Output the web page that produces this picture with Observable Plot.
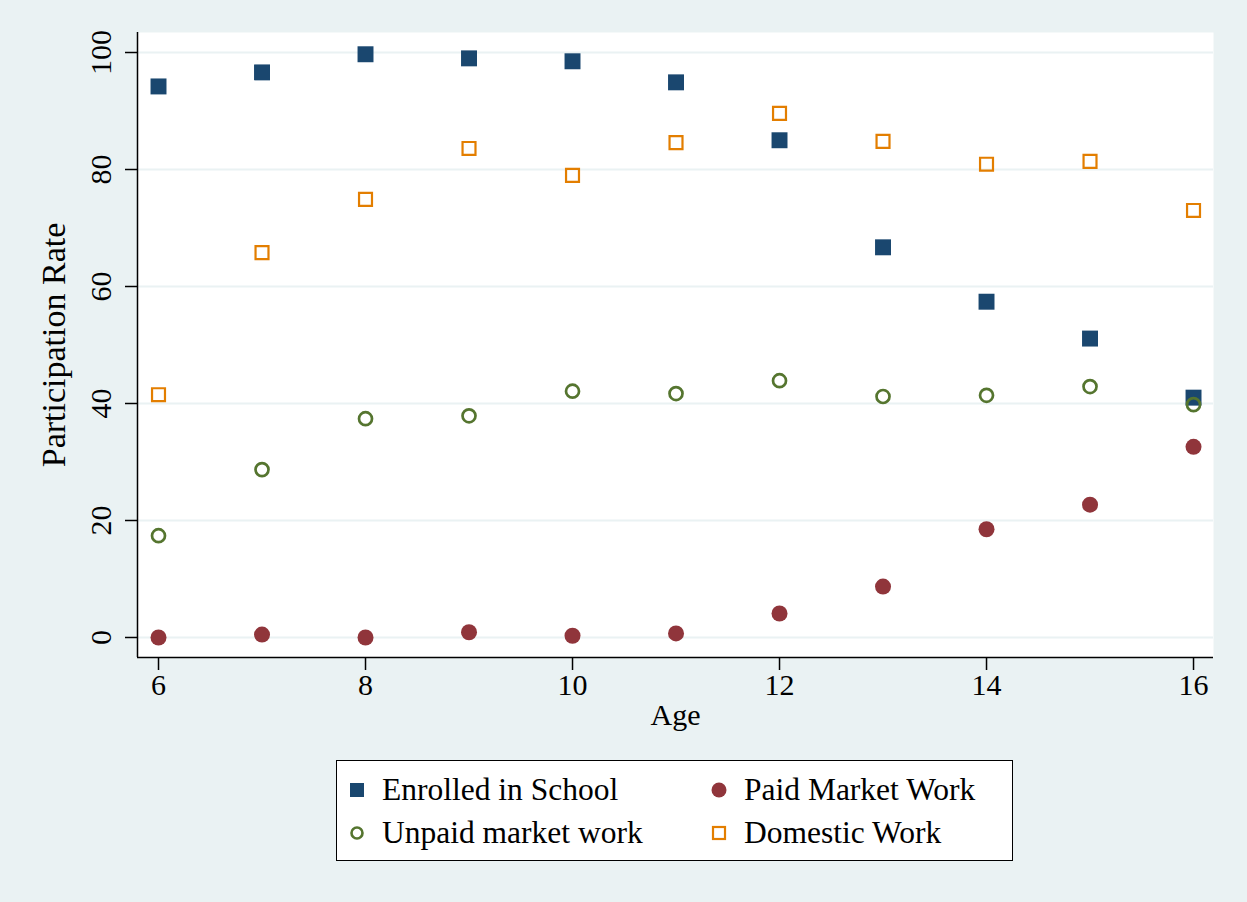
<!DOCTYPE html>
<html>
<head>
<meta charset="utf-8">
<script src="https://cdn.jsdelivr.net/npm/d3@7"></script>
<script src="https://cdn.jsdelivr.net/npm/@observablehq/plot@0.6"></script>
<style>
  html, body { margin: 0; padding: 0; background: #eaf2f3; }
  body { width: 1247px; height: 902px; position: relative; overflow: hidden; font-family: "Liberation Serif", "Times New Roman", serif; }
  #chart svg { display: block; }
  #legend { position: absolute; left: 336px; top: 760px; width: 675px; height: 99px; background: #fff; border: 1.5px solid #000; }
  .item { position: absolute; font-size: 31.5px; line-height: 32px; color: #000; white-space: nowrap; }
  .mk { position: absolute; }
</style>
</head>
<body>
<div id="chart"></div>
<div id="legend"></div>
<script>
const ages = [6, 7, 8, 9, 10, 11, 12, 13, 14, 15, 16];
const seriesNames = ["Enrolled in School", "Paid Market Work", "Unpaid market work", "Domestic Work"];
const enrolled = [94.2, 96.6, 99.7, 99.0, 98.5, 94.9, 85.0, 66.7, 57.4, 51.1, 41.0];
const paid     = [0.0, 0.5, 0.0, 0.9, 0.3, 0.7, 4.1, 8.7, 18.5, 22.7, 32.6];
const unpaid   = [17.4, 28.7, 37.4, 37.9, 42.1, 41.7, 43.9, 41.2, 41.4, 42.9, 39.8];
const domestic = [41.5, 65.8, 74.9, 83.6, 79.0, 84.6, 89.6, 84.8, 80.9, 81.4, 73.0];
const xTicks = [6, 8, 10, 12, 14, 16];
const yTicks = [0, 20, 40, 60, 80, 100];

const colors = { enrolled: "#1a476f", paid: "#90353b", unpaid: "#55752f", domestic: "#e37e00" };

const rows = s => ages.map((a, i) => ({ age: a, v: s[i] }));
const xDom = [5.797, 16.193];
const yDom = [-3.42, 103.42];

const plot = Plot.plot({
  width: 1247,
  height: 750,
  marginLeft: 137,
  marginRight: 34,
  marginTop: 32,
  marginBottom: 93,
  style: { background: "transparent", fontFamily: "Liberation Serif, Times New Roman, serif", fontSize: "30px", color: "#000" },
  x: { domain: xDom, axis: null },
  y: { domain: yDom, axis: null },
  marks: [
    Plot.frame({ fill: "#fff", stroke: null }),
    Plot.gridY(yTicks, { stroke: "#eaf2f3", strokeOpacity: 1, strokeWidth: 2 }),
    Plot.ruleX([xDom[0]], { stroke: "#000", strokeWidth: 1.5 }),
    Plot.ruleY([yDom[0]], { stroke: "#000", strokeWidth: 1.5 }),
    Plot.axisY({ ticks: yTicks, tickSize: 12, tickFormat: () => "", label: null, stroke: "#000", strokeWidth: 1.5, tickPadding: 0 }),
    Plot.axisX({ ticks: xTicks, tickSize: 13, tickFormat: () => "", label: null, stroke: "#000", strokeWidth: 1.5, tickPadding: 0 }),
    Plot.text(yTicks, { y: d => d, frameAnchor: "left", textAnchor: "middle", dx: -36, rotate: -90, text: d => String(d), fontSize: 30, fill: "#000" }),
    Plot.text(xTicks, { x: d => d, frameAnchor: "bottom", dy: 37, text: d => String(d), fontSize: 30, fill: "#000" }),
    Plot.text(["Age"], { frameAnchor: "bottom", dy: 67, fontSize: 30, fill: "#000" }),
    Plot.text(["Participation Rate"], { frameAnchor: "left", textAnchor: "middle", dx: -83.5, rotate: -90, fontSize: 34, fill: "#000" }),
    Plot.dot(rows(enrolled), { x: "age", y: "v", symbol: "square", r: 9, fill: colors.enrolled, stroke: null }),
    Plot.dot(rows(paid), { x: "age", y: "v", symbol: "circle", r: 8, fill: colors.paid, stroke: null }),
    Plot.dot(rows(unpaid), { x: "age", y: "v", symbol: "circle", r: 6.5, fill: "none", stroke: colors.unpaid, strokeWidth: 2.7 }),
    Plot.dot(rows(domestic), { x: "age", y: "v", symbol: "square", r: 7.3, fill: "none", stroke: colors.domestic, strokeWidth: 2.2 })
  ]
});
document.getElementById("chart").appendChild(plot);

// legend: box at (336,760); positions relative to box interior
const legendSpec = [
  { name: seriesNames[0], sym: "sqf", c: colors.enrolled, mx: 11, tx: 45, row: 0 },
  { name: seriesNames[1], sym: "cf", c: colors.paid, mx: 373, tx: 407, row: 0 },
  { name: seriesNames[2], sym: "co", c: colors.unpaid, mx: 11, tx: 45, row: 1 },
  { name: seriesNames[3], sym: "sqo", c: colors.domestic, mx: 373, tx: 407, row: 1 }
];
const rowCenter = [28.5, 71.5];
const lg = document.getElementById("legend");
for (const s of legendSpec) {
  const cy = rowCenter[s.row];
  const m = document.createElementNS("http://www.w3.org/2000/svg", "svg");
  m.setAttribute("width", 18); m.setAttribute("height", 18);
  m.setAttribute("class", "mk");
  m.style.left = s.mx + "px"; m.style.top = (cy - 9) + "px";
  let shape = "";
  if (s.sym === "sqf") shape = `<rect x="2" y="2" width="14" height="14" fill="${s.c}"/>`;
  if (s.sym === "cf") shape = `<circle cx="9" cy="9" r="7.5" fill="${s.c}"/>`;
  if (s.sym === "co") shape = `<circle cx="9" cy="9" r="5.5" fill="none" stroke="${s.c}" stroke-width="2.6"/>`;
  if (s.sym === "sqo") shape = `<rect x="3" y="3" width="12" height="12" fill="none" stroke="${s.c}" stroke-width="2.2"/>`;
  m.innerHTML = shape;
  lg.appendChild(m);
  const d = document.createElement("div");
  d.className = "item";
  d.style.left = s.tx + "px";
  d.style.top = (cy - 16) + "px";
  d.textContent = s.name;
  lg.appendChild(d);
}
</script>
</body>
</html>
